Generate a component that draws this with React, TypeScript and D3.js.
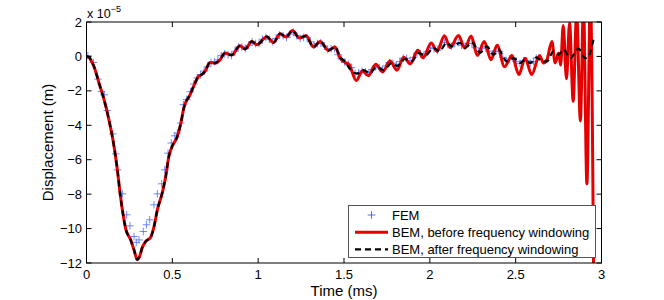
import React from "react";
import * as d3 from "d3";

// BEM, before frequency windowing (time in ms, displacement in 1e-5 m)
const tBefore = [0, 0.015, 0.03, 0.044, 0.073, 0.102, 0.131, 0.16, 0.18, 0.195, 0.215, 0.228, 0.257, 0.277, 0.295, 0.306, 0.325, 0.345, 0.374, 0.393, 0.413, 0.442, 0.461, 0.48, 0.5, 0.529, 0.549, 0.568, 0.603, 0.632, 0.652, 0.671, 0.69, 0.72, 0.749, 0.778, 0.807, 0.845, 0.894, 0.924, 0.963, 0.992, 1.05, 1.089, 1.128, 1.163, 1.2, 1.24, 1.279, 1.322, 1.361, 1.41, 1.448, 1.477, 1.506, 1.53, 1.571, 1.607, 1.642, 1.685, 1.725, 1.768, 1.808, 1.848, 1.887, 1.93, 1.961, 2.008, 2.042, 2.085, 2.118, 2.167, 2.203, 2.241, 2.277, 2.317, 2.356, 2.392, 2.435, 2.478, 2.519, 2.555, 2.593, 2.639, 2.662, 2.682, 2.711, 2.73, 2.75, 2.762, 2.777, 2.796, 2.814, 2.835, 2.855, 2.877, 2.895, 2.915, 2.935, 2.955];
const vBefore = [0, -0.05, -0.3, -0.6, -1.55, -2.5, -3.7, -5.2, -6.6, -7.9, -9.3, -10.0, -10.65, -11.24, -11.8, -11.7, -11.1, -10.75, -10.5, -9.9, -8.9, -7.9, -7.0, -5.8, -5.2, -4.65, -3.9, -2.95, -2.23, -1.55, -1.16, -1.06, -0.87, -0.35, -0.39, -0.19, 0.2, 0.08, 0.62, 0.43, 0.87, 0.68, 1.15, 0.81, 1.32, 1.13, 1.51, 1.07, 1.2, 0.55, 0.87, 0.35, 0.55, -0.09, -0.35, -0.48, -1.4, -0.85, -1.12, -0.45, -0.9, -0.27, -0.8, -0.05, -0.43, 0.36, -0.08, 0.78, 0.3, 1.2, 0.52, 1.21, 0.49, 1.18, 0.05, 0.86, -0.19, 0.65, -0.6, 0.05, -1.05, -0.1, -1.05, 0.05, -0.38, -0.19, 0.87, -0.38, 0.2, -0.5, 1.8, -1.3, 1.95, -2.6, 2.6, -3.75, 3.0, -7.4, 3.5, -14];

// BEM, after frequency windowing
const tAfter = [0, 0.015, 0.03, 0.044, 0.073, 0.102, 0.131, 0.16, 0.18, 0.195, 0.215, 0.228, 0.257, 0.277, 0.295, 0.306, 0.325, 0.345, 0.374, 0.393, 0.413, 0.442, 0.461, 0.48, 0.5, 0.529, 0.549, 0.568, 0.603, 0.632, 0.652, 0.671, 0.69, 0.72, 0.749, 0.778, 0.807, 0.845, 0.894, 0.924, 0.963, 0.992, 1.05, 1.089, 1.128, 1.163, 1.2, 1.24, 1.279, 1.322, 1.361, 1.41, 1.448, 1.477, 1.506, 1.536, 1.575, 1.614, 1.652, 1.69, 1.73, 1.778, 1.808, 1.856, 1.895, 1.934, 1.973, 2.021, 2.056, 2.099, 2.128, 2.177, 2.206, 2.245, 2.293, 2.332, 2.371, 2.4, 2.449, 2.487, 2.526, 2.555, 2.585, 2.623, 2.655, 2.682, 2.72, 2.75, 2.78, 2.818, 2.866, 2.905, 2.924, 2.953];
const vAfter = [0, -0.05, -0.3, -0.6, -1.55, -2.5, -3.7, -5.2, -6.6, -7.9, -9.3, -10.0, -10.65, -11.24, -11.8, -11.7, -11.1, -10.75, -10.5, -9.9, -8.9, -7.9, -7.0, -5.8, -5.2, -4.65, -3.9, -2.95, -2.23, -1.55, -1.16, -1.06, -0.87, -0.35, -0.39, -0.19, 0.2, 0.08, 0.62, 0.43, 0.87, 0.68, 1.15, 0.81, 1.32, 1.13, 1.51, 1.07, 1.2, 0.55, 0.87, 0.35, 0.55, -0.05, -0.3, -0.75, -1.0, -0.8, -0.97, -0.6, -0.8, -0.38, -0.55, -0.15, -0.28, 0.2, 0.05, 0.49, 0.3, 0.8, 0.58, 0.78, 0.5, 0.81, 0.22, 0.58, 0.1, 0.39, -0.29, -0.1, -0.38, -0.2, -0.38, -0.05, -0.3, -0.29, 0.29, 0.1, 0.39, -0.1, 0.45, -0.1, 0.0, 0.97];

// FEM
const tFem = [0.008, 0.04, 0.067, 0.086, 0.104, 0.121, 0.154, 0.17, 0.18, 0.209, 0.234, 0.253, 0.277, 0.29, 0.306, 0.331, 0.349, 0.368, 0.393, 0.413, 0.438, 0.456, 0.475, 0.494, 0.514, 0.529, 0.549, 0.564, 0.584, 0.605, 0.625, 0.645, 0.665, 0.685, 0.705, 0.725, 0.745, 0.765, 0.785, 0.805, 0.825, 0.845, 0.865, 0.885, 0.905, 0.925, 0.945, 0.965, 0.985, 1.005, 1.025, 1.045, 1.065, 1.085, 1.105, 1.125, 1.145, 1.165, 1.185, 1.205, 1.225, 1.245, 1.265, 1.285, 1.305, 1.325, 1.345, 1.365, 1.385, 1.405, 1.425, 1.445, 1.465, 1.485, 1.505, 1.525, 1.545, 1.565, 1.585, 1.605, 1.625, 1.645, 1.665, 1.685, 1.705, 1.725, 1.745, 1.765, 1.785, 1.805, 1.825, 1.845, 1.865, 1.885, 1.905, 1.925, 1.945, 1.965, 1.985, 2.005, 2.025, 2.045, 2.065, 2.085, 2.105, 2.125, 2.145, 2.165, 2.185, 2.205, 2.225, 2.245, 2.265, 2.285, 2.305, 2.325, 2.345, 2.365, 2.385, 2.405, 2.425, 2.445, 2.465, 2.485, 2.505, 2.525, 2.545, 2.565, 2.585, 2.605, 2.62];
const vFem = [0.04, -0.35, -1.32, -2.03, -2.23, -3.14, -4.5, -5.66, -6.59, -7.98, -9.2, -9.84, -10.46, -10.8, -10.66, -10.17, -9.78, -9.49, -8.62, -7.98, -7.4, -6.59, -5.62, -5.03, -4.61, -4.45, -3.87, -2.8, -2.5, -2.05, -1.6, -1.25, -1.05, -0.85, -0.6, -0.35, -0.3, -0.2, 0.05, 0.15, 0.1, 0.05, 0.3, 0.55, 0.55, 0.45, 0.65, 0.85, 0.75, 0.75, 1.0, 1.1, 1.0, 0.85, 1.05, 1.25, 1.2, 1.1, 1.3, 1.4, 1.2, 1.05, 1.1, 1.1, 0.85, 0.65, 0.75, 0.8, 0.6, 0.4, 0.45, 0.45, 0.1, -0.15, -0.35, -0.45, -0.65, -1.0, -0.95, -0.85, -0.9, -0.95, -0.75, -0.6, -0.65, -0.75, -0.55, -0.35, -0.4, -0.5, -0.3, -0.1, -0.1, -0.25, -0.05, 0.2, 0.15, 0.05, 0.3, 0.5, 0.45, 0.35, 0.6, 0.8, 0.7, 0.6, 0.75, 0.8, 0.65, 0.6, 0.75, 0.75, 0.5, 0.3, 0.45, 0.55, 0.3, 0.15, 0.3, 0.3, -0.05, -0.25, -0.15, -0.1, -0.3, -0.4, -0.25, -0.25, -0.4, -0.3, -0.1];

const xTicks = [0, 0.5, 1, 1.5, 2, 2.5, 3];
const yTicks = [-12, -10, -8, -6, -4, -2, 0, 2];
const legendLabels = ["FEM", "BEM, before frequency windowing", "BEM, after frequency windowing"];

const FONT = "'Liberation Sans', Arial, Helvetica, sans-serif";

export default function App() {
  const left = 86.5, right = 601.5, top = 22, bottom = 263;
  const x = d3.scaleLinear().domain([0, 3]).range([left, right]);
  const y = d3.scaleLinear().domain([-12, 2]).range([bottom, top]);

  const line = d3
    .line<[number, number]>()
    .x((d) => x(d[0]))
    .y((d) => y(d[1]))
    .curve(d3.curveMonotoneX);

  const before = line(tBefore.map((t, i) => [t, vBefore[i]] as [number, number])) || "";
  const after = line(tAfter.map((t, i) => [t, vAfter[i]] as [number, number])) || "";
  const fmt = (v: number) => (v < 0 ? "\u2212" + Math.abs(v) : String(v));

  const lg = { x: 348.5, y: 205.5, w: 247, h: 52 };
  const rowY = [215, 232.3, 249.3];
  const blue = "#4d6dff";

  return (
    <svg width={664} height={300} style={{ position: "absolute", left: 0, top: 0, background: "#fff" }} fontFamily={FONT}>
      <defs>
        <clipPath id="plot">
          <rect x={left} y={top} width={right - left} height={bottom - top} />
        </clipPath>
      </defs>
      <rect width={664} height={300} fill="#fff" />
      <g clipPath="url(#plot)">
        {tFem.map((t, i) => (
          <g key={i} stroke={blue} strokeOpacity={0.8} strokeWidth={1}>
            <line x1={x(t) - 3.8} x2={x(t) + 3.8} y1={y(vFem[i])} y2={y(vFem[i])} />
            <line x1={x(t)} x2={x(t)} y1={y(vFem[i]) - 3.8} y2={y(vFem[i]) + 3.8} />
          </g>
        ))}
        <path d={before} fill="none" stroke="#e60000" strokeWidth={3} strokeLinejoin="round" />
        <path d={after} fill="none" stroke="#000" strokeWidth={2.2} strokeDasharray="6,4" />
      </g>
      {/* axes box */}
      <rect x={left} y={top} width={right - left} height={bottom - top} fill="none" stroke="#000" strokeWidth={1} />
      {xTicks.map((t) => (
        <g key={"x" + t}>
          <line x1={x(t)} x2={x(t)} y1={bottom} y2={bottom - 5} stroke="#000" />
          <line x1={x(t)} x2={x(t)} y1={top} y2={top + 5} stroke="#000" />
          <text x={x(t)} y={278.5} fontSize={13} textAnchor="middle">{String(t)}</text>
        </g>
      ))}
      {yTicks.map((v) => (
        <g key={"y" + v}>
          <line x1={left} x2={left + 5} y1={y(v)} y2={y(v)} stroke="#000" />
          <line x1={right} x2={right - 5} y1={y(v)} y2={y(v)} stroke="#000" />
          <text x={82} y={y(v)} fontSize={13} textAnchor="end" dominantBaseline="central">{fmt(v)}</text>
        </g>
      ))}
      <text x={87} y={18} fontSize={12.5}>
        x 10
        <tspan fontSize={9} dy={-6}>{"\u22125"}</tspan>
      </text>
      <text x={(left + right) / 2} y={296} fontSize={15} textAnchor="middle">Time (ms)</text>
      <text transform={`translate(53,${(top + bottom) / 2}) rotate(-90)`} fontSize={15} textAnchor="middle">Displacement (m)</text>
      {/* legend */}
      <rect x={lg.x} y={lg.y} width={lg.w} height={lg.h} fill="#fff" stroke="#555" strokeWidth={1} />
      <g stroke={blue} strokeWidth={1}>
        <line x1={371.5 - 3.8} x2={371.5 + 3.8} y1={rowY[0]} y2={rowY[0]} />
        <line x1={371.5} x2={371.5} y1={rowY[0] - 3.8} y2={rowY[0] + 3.8} />
      </g>
      <line x1={355} x2={388} y1={rowY[1]} y2={rowY[1]} stroke="#e60000" strokeWidth={3} />
      <line x1={355} x2={388} y1={rowY[2]} y2={rowY[2]} stroke="#000" strokeWidth={2.2} strokeDasharray="6,4" />
      {legendLabels.map((l, i) => (
        <text key={l} x={392} y={rowY[i]} fontSize={13} dominantBaseline="central">{l}</text>
      ))}
    </svg>
  );
}
